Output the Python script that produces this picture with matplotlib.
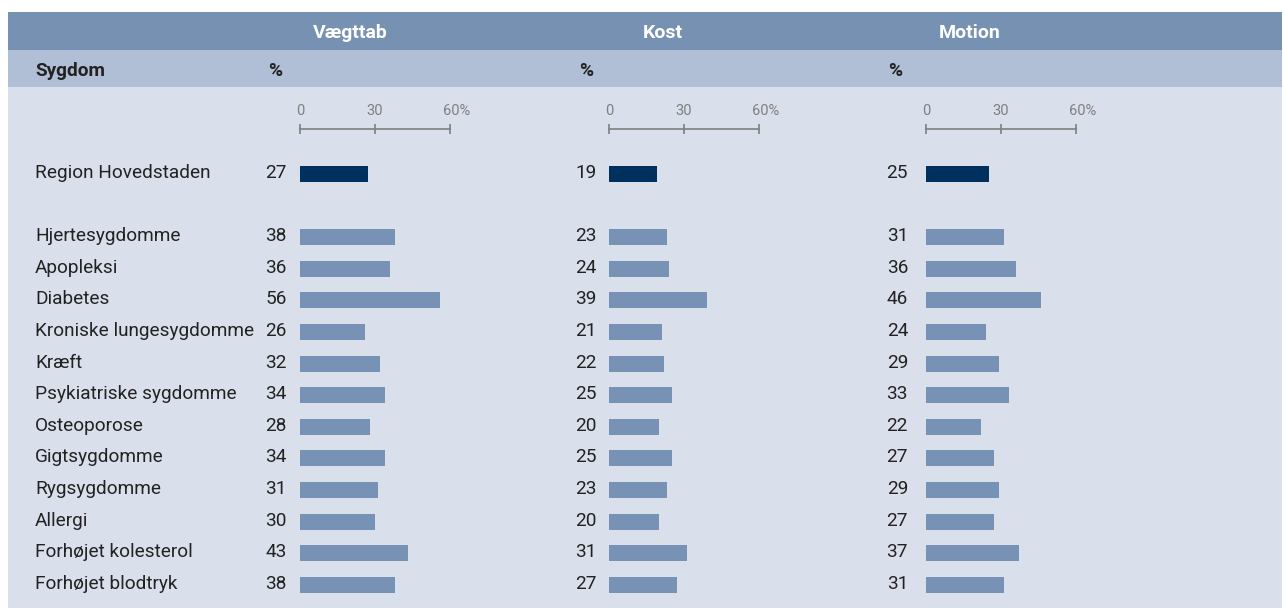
import matplotlib.pyplot as plt
from matplotlib.patches import Rectangle

plt.rcParams['font.family'] = ['Roboto', 'DejaVu Sans']

# data
sygdomme = ["Region Hovedstaden", "Hjertesygdomme", "Apopleksi", "Diabetes",
            "Kroniske lungesygdomme", "Kræft", "Psykiatriske sygdomme",
            "Osteoporose", "Gigtsygdomme", "Rygsygdomme", "Allergi",
            "Forhøjet kolesterol", "Forhøjet blodtryk"]
vaegttab = [27, 38, 36, 56, 26, 32, 34, 28, 34, 31, 30, 43, 38]
kost = [19, 23, 24, 39, 21, 22, 25, 20, 25, 23, 20, 31, 27]
motion = [25, 31, 36, 46, 24, 29, 33, 22, 27, 29, 27, 37, 31]
titler = ["Vægttab", "Kost", "Motion"]
skala = [0, 30, 60]

W, H = 1283, 610
c_head = "#7791b3"
c_sub = "#b1bfd6"
c_body = "#d9dfeb"
c_bar = "#7892b5"
c_region = "#00305e"
c_txt = "#222222"
c_grey = "#808080"

fig = plt.figure(figsize=(W / 100, H / 100), dpi=100)
bg = fig.add_axes([0, 0, 1, 1])
bg.set_xlim(0, W)
bg.set_ylim(H, 0)
bg.axis("off")

# baggrund / header
bg.add_patch(Rectangle((8, 12), 1274, 38, color=c_head, lw=0))
bg.add_patch(Rectangle((8, 50), 1274, 37, color=c_sub, lw=0))
bg.add_patch(Rectangle((8, 87), 1274, 521, color=c_body, lw=0))

bg.text(35, 76, "Sygdom", fontsize=13.7, fontweight="bold", color=c_txt, va="baseline")

# række-positioner (pixels)
ys = [174] + [237 + 31.64 * i for i in range(len(sygdomme) - 1)]
for navn, y in zip(sygdomme, ys):
    bg.text(35, y + 4, navn, fontsize=13.7, color=c_txt, va="baseline")

paneler = [
    (vaegttab, 300, 13, 32, 350),
    (kost, 609, 12, 30, 663),
    (motion, 926, 18, 38, 970),
]

for (vals, x0, val_off, pct_off, title_x), titel in zip(paneler, titler):
    bg.text(title_x, 38, titel, fontsize=14, fontweight="bold", color="white",
            ha="center", va="baseline")
    bg.text(x0 - pct_off, 76, "%", fontsize=13.7, fontweight="bold", color=c_txt, va="baseline")

    ax = fig.add_axes([x0 / W, 0, 200 / W, 1])
    ax.set_xlim(0, 80)
    ax.set_ylim(H, 0)
    ax.axis("off")

    farver = [c_region] + [c_bar] * (len(vals) - 1)
    ax.barh(ys, vals, height=16, color=farver, lw=0)
    for v, y in zip(vals, ys):
        ax.annotate(str(v), xy=(0, y + 4), xytext=(-val_off, 0), textcoords="offset pixels",
                    ha="right", va="baseline", fontsize=13.7, color=c_txt)

    # skala
    ax.plot([skala[0], skala[-1]], [129, 129], color=c_grey, lw=1.2, clip_on=False)
    ax.vlines(skala, 124, 134, color=c_grey, lw=1.2, clip_on=False)
    for s in skala:
        lab = f"{s}%" if s == skala[-1] else str(s)
        dx = 7 if s == skala[-1] else 0
        ax.annotate(lab, xy=(s, 115), xytext=(dx, 0), textcoords="offset pixels",
                    ha="center", va="baseline", fontsize=10.5, color=c_grey)

fig.savefig("out.png", dpi=100, facecolor="white")
